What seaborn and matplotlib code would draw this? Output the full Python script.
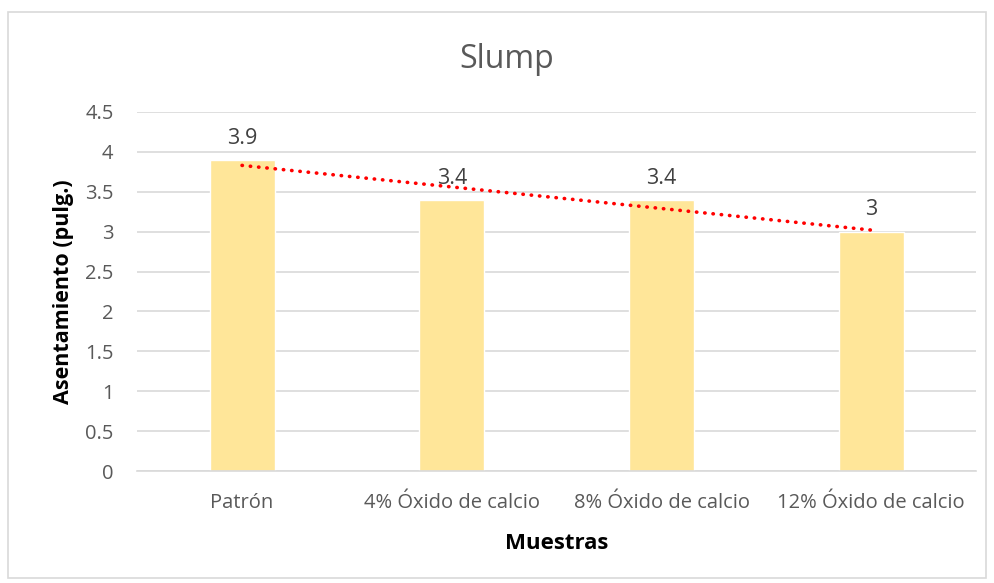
import numpy as np
import pandas as pd
import matplotlib
matplotlib.use('Agg')
import matplotlib.pyplot as plt
import seaborn as sns
from matplotlib.patches import Rectangle

# data
muestras = ['Patrón', '4% Óxido de calcio', '8% Óxido de calcio', '12% Óxido de calcio']
asentamiento = [3.9, 3.4, 3.4, 3.0]
yticks = [0, 0.5, 1, 1.5, 2, 2.5, 3, 3.5, 4, 4.5]

df = pd.DataFrame({'Muestras': muestras, 'Asentamiento': asentamiento})

sns.set_style('white')
plt.rcParams['font.family'] = ['Open Sans', 'DejaVu Sans']

fig = plt.figure(figsize=(9.94, 5.83), dpi=100)
ax = fig.add_axes([0.138, 0.192, 0.844, 0.616])

# chart border
fig.patches.append(Rectangle((8 / 994, 5 / 583), 978 / 994, 566 / 583, transform=fig.transFigure,
                             fill=False, edgecolor='#d9d9d9', linewidth=1.2))

sns.barplot(data=df, x='Muestras', y='Asentamiento', color='#ffe699', width=0.31,
            saturation=1, ax=ax, zorder=2)

# linear trend line
xs = np.arange(len(asentamiento))
m, b = np.polyfit(xs, asentamiento, 1)
ax.plot(xs, m * xs + b, color='#ff0000', linestyle=(0, (0.1, 2.2)), linewidth=2.6,
        dash_capstyle='round', zorder=3)

for i, v in enumerate(asentamiento):
    ax.text(i, v + 0.14, f'{v:g}', ha='center', va='bottom', fontsize=15.5, color='#404040')

ax.set_ylim(0, 4.5)
ax.set_xlim(-0.5, 3.5)
ax.set_yticks(yticks)
ax.set_yticklabels([f'{t:g}' for t in yticks])
ax.yaxis.grid(True, color='#d9d9d9', linewidth=1.2, zorder=0)
ax.set_axisbelow(True)
for s in ['top', 'right', 'left']:
    ax.spines[s].set_visible(False)
ax.spines['bottom'].set_color('#d9d9d9')
ax.spines['bottom'].set_linewidth(1.2)
ax.tick_params(axis='both', length=0, labelsize=14.5, colors='#595959')
ax.tick_params(axis='y', pad=17)
ax.tick_params(axis='x', pad=16)

fig.text(507 / 994, 1 - 59 / 583, 'Slump', fontsize=23, color='#595959', ha='center', va='center')
ax.set_xlabel('Muestras', fontsize=16, fontweight='bold', color='#000000', labelpad=14)
ax.set_ylabel('Asentamiento (pulg.)', fontsize=15.5, fontweight='bold', color='#000000', labelpad=8)

fig.savefig('out.png', dpi=100)
